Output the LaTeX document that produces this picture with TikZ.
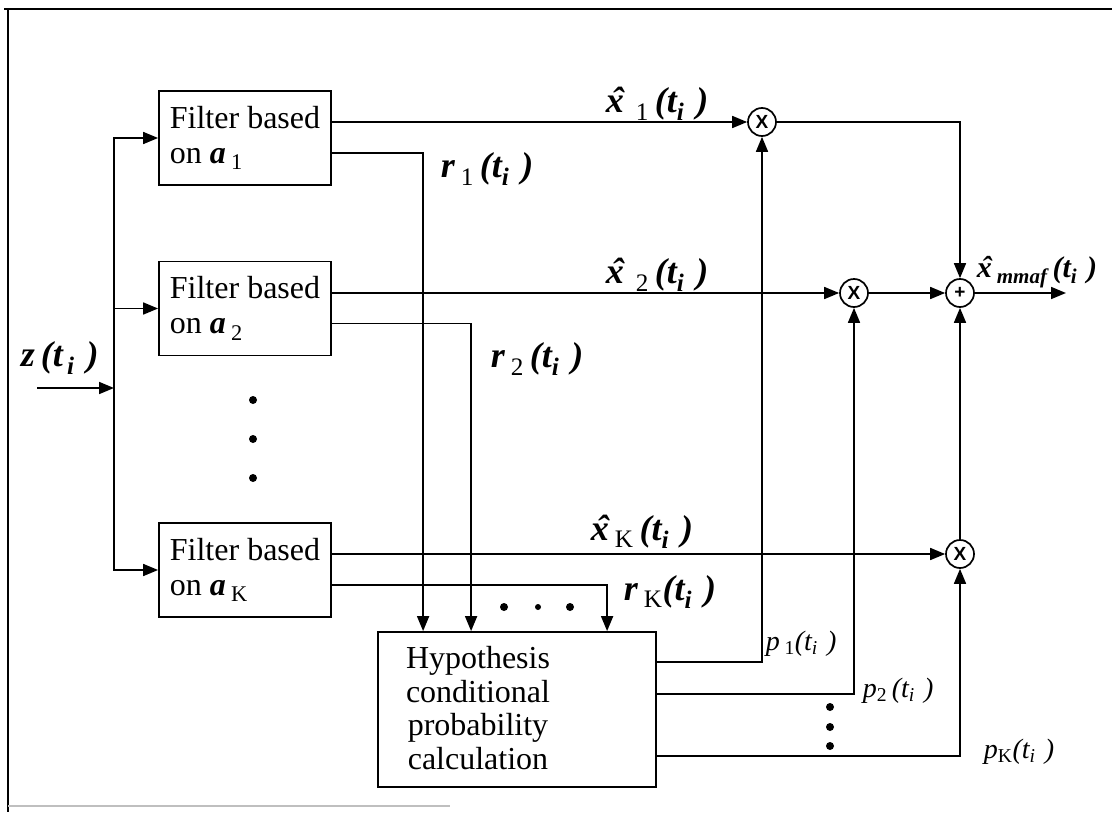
\documentclass[tikz,border=0pt]{standalone}
\usepackage{fontspec}
\setmainfont{Liberation Serif}
\newfontfamily\sansf{Liberation Sans}
\usetikzlibrary{arrows.meta}
\newcommand\xh{\ooalign{\textit{x}\cr\hidewidth\kern0.14em\textbf{ˆ}\hidewidth\cr}}
\begin{document}
\begin{tikzpicture}[x=1pt,y=-1pt,
  line width=1.7pt,
  arr/.style={-{Triangle[length=15pt,width=12pt]}},
  fbox/.style={draw, line width=1.8pt, minimum width=172pt, minimum height=94pt,
    inner xsep=8pt, inner ysep=0pt, align=left,
    font=\fontsize{32}{35}\selectfont},
  hbox/.style={draw, line width=1.8pt, minimum width=278pt, minimum height=155pt, inner sep=0pt},
  htxt/.style={inner sep=0pt, align=center, font=\fontsize{32}{33.7}\selectfont},
  op/.style={draw, circle, line width=1.7pt, minimum size=28pt, inner sep=0pt,
    font=\sansf\bfseries\fontsize{19}{19}\selectfont},
  lab/.style={inner sep=0pt, anchor=base west, font=\fontsize{36}{40}\selectfont\bfseries\itshape},
  plab/.style={inner sep=0pt, anchor=base west, font=\fontsize{28}{30}\selectfont\itshape},
  dot/.style={fill, circle, inner sep=0pt, minimum size=8pt}
]
\useasboundingbox (0,0) rectangle (1112,814);
% frame
\draw[line width=2.8pt] (4,9) -- (1112,9);
\draw[line width=2.2pt] (8,8) -- (8,812);
\draw[black!25, line width=1.5pt] (8,806) -- (450,806);

% filters
\node[fbox] (f1) at (245,138) {Filter based\\on \textbf{\textit{a}}\,\textsubscript{1}};
\node[fbox] (f2) at (245,308.5) {Filter based\\on \textbf{\textit{a}}\,\textsubscript{2}};
\node[fbox] (fK) at (245,570) {Filter based\\on \textbf{\textit{a}}\,\textsubscript{K}};

% hypothesis box
\node[hbox] (h) at (517,709.5) {};
\node[htxt] (ht) at (478,708) {Hypothesis\\conditional\\probability\\calculation};

% operators
\node[op] (m1) at (762,122) {X};
\node[op] (m2) at (854,293) {X};
\node[op] (mK) at (960,554) {X};
\node[op] (s) at (960,293) {+};

% input and bus
\coordinate (zin) at (37,388);
\coordinate (bus) at (114,388);
\coordinate (out) at (1066,293);
\draw[arr] (zin) -- (bus);
\draw[arr] (bus) |- (f1.west);
\draw[arr] (bus) |- (f2.west);
\draw[arr] (bus) |- (fK.west);

% filter outputs x-hat
\draw[arr] (m1.west -| f1.east) -- (m1.west);
\draw[arr] (m2.west -| f2.east) -- (m2.west);
\draw[arr] (mK.west -| fK.east) -- (mK.west);

% residuals to hypothesis box
\coordinate (h1) at ([xshift=46pt]h.north west);
\coordinate (h2) at ([xshift=94pt]h.north west);
\coordinate (hK) at ([xshift=230pt]h.north west);
\draw[arr] ([yshift=-63pt]f1.north east) -| (h1);
\draw[arr] ([yshift=-63pt]f2.north east) -| (h2);
\draw[arr] ([yshift=-63pt]fK.north east) -| (hK);

% probabilities
\draw[arr] ([yshift=-31pt]h.north east) -| (m1.south);
\draw[arr] ([yshift=-63pt]h.north east) -| (m2.south);
\draw[arr] ([yshift=-125pt]h.north east) -| (mK.south);

% combination
\draw[arr] (m1.east) -| (s.north);
\draw[arr] (m2.east) -- (s.west);
\draw[arr] (mK.north) -- (s.south);
\draw[arr] (s.east) -- (out);

% dots
\node[dot] (d1) at (253,400) {};
\node[dot] (d2) at (253,439) {};
\node[dot] (d3) at (253,478) {};
\node[dot] (d4) at (504,607) {};
\node[dot,minimum size=6pt] (d5) at (538,607) {};
\node[dot] (d6) at (570,607) {};
\node[dot] (d7) at (830,707) {};
\node[dot] (d8) at (830,727) {};
\node[dot] (d9) at (830,746) {};

% labels
\node[lab] (lz) at (20,366) {z\,(t\textsubscript{\,i}\,\,)};
\node[lab] (lx1) at (605,112) {\xh\,\,\textsubscript{\upshape\mdseries 1}\,(t\textsubscript{i}\,\,)};
\node[lab] (lx2) at (605,283) {\xh\,\,\textsubscript{\upshape\mdseries 2}\,(t\textsubscript{i}\,\,)};
\node[lab] (lxK) at (590,540) {\xh\,\textsubscript{\upshape\mdseries K}\,(t\textsubscript{i}\,\,)};
\node[lab] (lr1) at (440,177) {r\,\textsubscript{\upshape\mdseries 1}\,(t\textsubscript{i}\,\,)};
\node[lab] (lr2) at (490,367) {r\,\textsubscript{\upshape\mdseries 2}\,(t\textsubscript{i}\,\,)};
\node[lab] (lrK) at (623,600) {r\,\textsubscript{\upshape\mdseries K}(t\textsubscript{i}\,\,)};
\node[plab] (lp1) at (765,650) {p\,\textsubscript{\upshape 1}(t\textsubscript{i}\,\,)};
\node[plab] (lp2) at (862,697) {p\textsubscript{\upshape 2}\,(t\textsubscript{i}\,\,)};
\node[plab] (lpK) at (983,758) {p\textsubscript{\upshape K}(t\textsubscript{i}\,\,)};
\node[lab, font=\fontsize{30}{32}\selectfont\bfseries\itshape] (lout) at (976,277) {\xh\,\textsubscript{mmaf}\,(t\textsubscript{i}\,\,)};
\end{tikzpicture}
\end{document}
